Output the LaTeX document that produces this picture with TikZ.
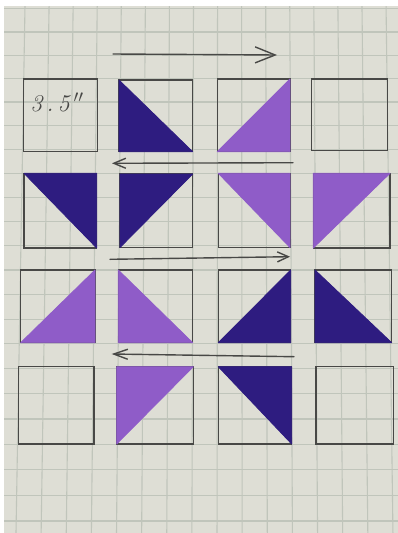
\documentclass[tikz,border=0pt]{standalone}
\usetikzlibrary{fit,arrows.meta}
\definecolor{paper}{RGB}{222,222,213}
\definecolor{gridc}{RGB}{192,197,187}
\definecolor{pencil}{RGB}{72,72,70}
\definecolor{navyv}{RGB}{46,28,128}
\definecolor{lilac}{RGB}{143,92,200}
\tikzset{
  sq/.style={draw=pencil, line width=1.2pt, inner sep=0pt, outer sep=0pt, minimum size=0pt},
  gridline/.style={draw=gridc, line width=1.1pt},
  arr/.style={draw=pencil, line width=1.4pt, line cap=round, line join=round},
}
\begin{document}
\begin{tikzpicture}[x=1pt, y={(0pt,-1pt)}]
\useasboundingbox (0,0) rectangle (398,533);
\fill[white] (0,0) rectangle (398,533);
\fill[paper] (4,6) rectangle (398,533);
\begin{scope}
  \clip (4,6) rectangle (398,533);
  \foreach \k in {0,...,15}
    \draw[gridline] ({25+24.07*\k},6) -- ({16+25.13*\k},533);
  \foreach \j in {-1,...,20}
    \draw[gridline] (4,{32+23.15*\j+0.065*\j*\j}) -- (398,{32+23.15*\j+0.065*\j*\j});
\end{scope}
% squares
\node[sq, fit={(23.3,79) (97.7,151.7)}] (s11) {};
\node[sq, fit={(119,80) (192.7,151.7)}] (s12) {};
\node[sq, fit={(217.3,79) (290,151.7)}] (s13) {};
\node[sq, fit={(311.7,79) (387.7,150.5)}] (s14) {};
\node[sq, fit={(24,173.3) (96.7,248)}] (s21) {};
\node[sq, fit={(120,174) (192.7,247.5)}] (s22) {};
\node[sq, fit={(218.3,173.3) (290,247.5)}] (s23) {};
\node[sq, fit={(313.3,173.3) (390,248)}] (s24) {};
\node[sq, fit={(20.7,270) (95,342.7)}] (s31) {};
\node[sq, fit={(118.3,270) (192.7,342.7)}] (s32) {};
\node[sq, fit={(218.3,270) (290.7,342.7)}] (s33) {};
\node[sq, fit={(315,270) (391.7,342.7)}] (s34) {};
\node[sq, fit={(18.3,366.7) (94,444)}] (s41) {};
\node[sq, fit={(116.7,366.7) (193.3,444)}] (s42) {};
\node[sq, fit={(218.3,366.7) (291.7,444)}] (s43) {};
\node[sq, fit={(316,366.7) (393.3,444)}] (s44) {};
% triangles
\foreach \n/\a/\b/\c/\col in {s12/north west/south west/south east/navyv,s13/north east/south west/south east/lilac,s21/north west/north east/south east/navyv,s22/north west/north east/south west/navyv,s23/north west/north east/south east/lilac,s24/north west/north east/south west/lilac,s31/north east/south east/south west/lilac,s32/north west/south west/south east/lilac,s33/north east/south east/south west/navyv,s34/north west/south west/south east/navyv,s42/north west/north east/south west/lilac,s43/north west/north east/south east/navyv}
  \fill[\col, draw=\col, line width=0.8pt, line join=round] (\n.\a) -- (\n.\b) -- (\n.\c) -- cycle;
% label
\node[text=pencil, inner sep=0pt, font=\fontsize{24}{24}\selectfont\itshape] (lbl) at (57,102) {3\,.\,5\,$''$};
% arrows
\coordinate (a1s) at (113,54);   \coordinate (a1e) at (277,55);
\coordinate (a2s) at (293,162.7); \coordinate (a2e) at (112,163.3);
\coordinate (a3s) at (110,259.3); \coordinate (a3e) at (290,256.7);
\coordinate (a4s) at (294,356.7); \coordinate (a4e) at (111.7,354);
\draw[arr, -{Straight Barb[length=20pt,width=16pt]}] (a1s) -- (a1e);
\draw[arr, -{Straight Barb[length=12pt,width=10pt]}] (a2s) -- (a2e);
\draw[arr, -{Straight Barb[length=11pt,width=10pt]}] (a3s) -- (a3e);
\draw[arr, -{Straight Barb[length=14pt,width=10pt]}] (a4s) -- (a4e);
\end{tikzpicture}
\end{document}
